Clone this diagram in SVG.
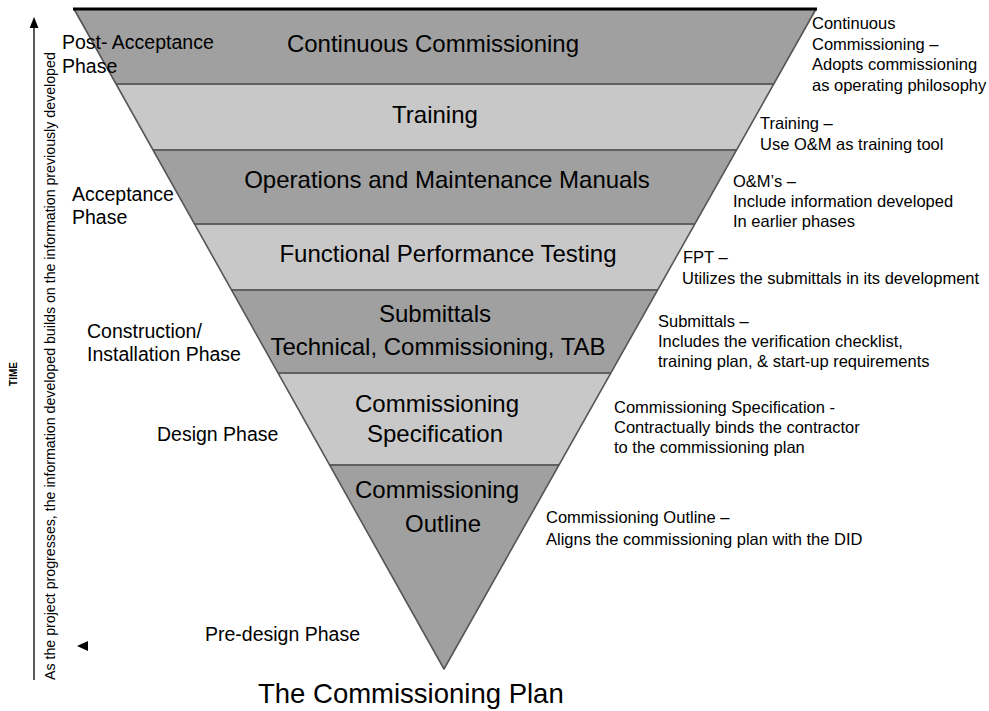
<svg xmlns="http://www.w3.org/2000/svg" width="989" height="711" viewBox="0 0 989 711">
<style>
text{font-family:"Liberation Sans",Arial,sans-serif;fill:#000}
.band{font-size:24px;text-anchor:middle}
.phase{font-size:19.5px}
.note{font-size:16.5px}
.dark{fill:#a0a0a0}
.light{fill:#c8c8c8}
.sep{stroke:#606060;stroke-width:2}
</style>
<rect width="989" height="711" fill="#fff"/>
<g id="time-axis">
<line x1="34" y1="27" x2="34" y2="680" stroke="#000" stroke-width="1.3"/>
<polygon points="34,17 29.7,28 38.5,28" fill="#000"/>
<polygon points="77,646 88,641 88,651" fill="#000"/>
<text transform="translate(55,680) rotate(-90)" style="font-size:14.2px">As the project progresses, the information developed builds on the information previously developed</text>
<text transform="translate(17,374) rotate(-90)" text-anchor="middle" style="font-size:10px;font-weight:bold">TIME</text>
</g>
<g id="bands">
<g id="band-continuous"><polygon class="dark" points="74,9 816,9 773.7,84 116,84"/><text class="band" x="433" y="52">Continuous Commissioning</text></g>
<g id="band-training"><polygon class="light" points="116,84 773.7,84 736.5,150 153,150"/><text class="band" x="435" y="123">Training</text></g>
<g id="band-om"><polygon class="dark" points="153,150 736.5,150 694.8,224 194.5,224"/><text class="band" x="447" y="188">Operations and Maintenance Manuals</text></g>
<g id="band-fpt"><polygon class="light" points="194.5,224 694.8,224 657.6,290 231.5,290"/><text class="band" x="448" y="262">Functional Performance Testing</text></g>
<g id="band-submittals"><polygon class="dark" points="231.5,290 657.6,290 610.8,373 278.1,373"/><text class="band" x="435" y="322">Submittals</text><text class="band" x="438" y="355">Technical, Commissioning, TAB</text></g>
<g id="band-spec"><polygon class="light" points="278.1,373 610.8,373 559,465 329.6,465"/><text class="band" x="437" y="412">Commissioning</text><text class="band" x="435" y="442">Specification</text></g>
<g id="band-outline"><polygon class="dark" points="329.6,465 559,465 444,669"/><text class="band" x="437" y="498">Commissioning</text><text class="band" x="443" y="532">Outline</text></g>
</g>
<g id="connectors">
<line class="sep" x1="116" y1="84" x2="773.7" y2="84"/>
<line class="sep" x1="153" y1="150" x2="736.5" y2="150"/>
<line class="sep" x1="194.5" y1="224" x2="694.8" y2="224"/>
<line class="sep" x1="231.5" y1="290" x2="657.6" y2="290"/>
<line class="sep" x1="278.1" y1="373" x2="610.8" y2="373"/>
<line class="sep" x1="329.6" y1="465" x2="559" y2="465"/>
<polyline points="74,9 444,669 816,9" fill="none" stroke="#555" stroke-width="1.6" stroke-linejoin="round"/>
<line x1="73" y1="9" x2="817" y2="9" stroke="#000" stroke-width="3"/>
</g>
<g id="phases">
<text class="phase" x="62" y="49">Post- Acceptance</text>
<text class="phase" x="62" y="73">Phase</text>
<text class="phase" x="72" y="201">Acceptance</text>
<text class="phase" x="72" y="224">Phase</text>
<text class="phase" x="87" y="338">Construction/</text>
<text class="phase" x="87" y="361">Installation Phase</text>
<text class="phase" x="157" y="441">Design Phase</text>
<text class="phase" x="205" y="641">Pre-design Phase</text>
</g>
<g id="notes">
<text class="note" x="812" y="29">Continuous</text>
<text class="note" x="812" y="49.5">Commissioning –</text>
<text class="note" x="812" y="70">Adopts commissioning</text>
<text class="note" x="812" y="90.5">as operating philosophy</text>
<text class="note" x="760" y="129">Training –</text>
<text class="note" x="760" y="150">Use O&amp;M as training tool</text>
<text class="note" x="733" y="187">O&amp;M’s –</text>
<text class="note" x="733" y="207">Include information developed</text>
<text class="note" x="733" y="227">In earlier phases</text>
<text class="note" x="683" y="263">FPT –</text>
<text class="note" x="682" y="284">Utilizes the submittals in its development</text>
<text class="note" x="658" y="327">Submittals –</text>
<text class="note" x="658" y="347">Includes the verification checklist,</text>
<text class="note" x="658" y="367">training plan, &amp; start-up requirements</text>
<text class="note" x="614" y="413">Commissioning Specification -</text>
<text class="note" x="614" y="433">Contractually binds the contractor</text>
<text class="note" x="614" y="453">to the commissioning plan</text>
<text class="note" x="546" y="523">Commissioning Outline  –</text>
<text class="note" x="546" y="545">Aligns the commissioning plan with the DID</text>
</g>
<text x="258" y="703" style="font-size:27.5px">The Commissioning Plan</text>
</svg>
